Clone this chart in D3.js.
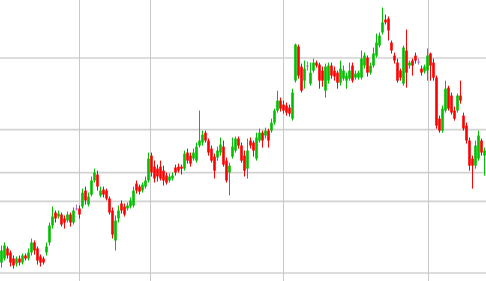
<!DOCTYPE html>
<html>
<head>
<meta charset="utf-8">
<script src="https://cdn.jsdelivr.net/npm/d3@7"></script>
<style>
  html, body { margin: 0; padding: 0; background: #fff; overflow: hidden; }
</style>
</head>
<body>
<div id="chart"></div>
<script>
// daily OHLC
const open = [
  10.73, 11.01, 11.71, 11.43, 11.01, 10.66, 11.01, 10.73, 11.22, 11.01,
  11.43, 12.13, 11.71, 11.15, 11.01, 11.43, 12.13, 13.31, 14.22, 13.94,
  14.08, 13.80, 13.66, 14.08, 13.52, 14.50, 14.50, 14.64, 15.75, 14.78,
  15.47, 16.45, 16.87, 15.41, 15.82, 15.75, 15.20, 14.36, 12.27, 13.80,
  14.85, 14.64, 14.50, 14.64, 14.71, 16.24, 16.03, 15.75, 16.03, 16.45,
  18.19, 17.42, 17.28, 17.42, 17.14, 16.80, 16.45, 16.59, 17.36, 17.42,
  17.42, 17.28, 18.40, 18.19, 17.98, 17.84, 18.89, 19.10, 19.79, 19.24,
  18.68, 18.12, 18.05, 18.40, 18.82, 17.84, 17.01, 18.12, 18.54, 19.38,
  18.89, 18.19, 17.28, 19.24, 19.10, 17.98, 19.24, 19.79, 19.59, 19.93,
  19.93, 20.49, 21.33, 22.03, 21.75, 21.68, 21.54, 20.77, 23.42, 25.80,
  24.40, 23.42, 24.47, 23.21, 24.12, 24.68, 24.54, 24.12, 22.72, 23.42,
  24.47, 24.12, 23.98, 23.28, 23.56, 23.42, 23.56, 24.47, 23.63, 23.63,
  23.63, 24.47, 25.03, 23.98, 24.47, 25.17, 25.87, 26.78, 27.68, 27.75,
  26.08, 25.17, 24.68, 24.12, 23.21, 25.52, 24.47, 24.82, 25.17, 24.75,
  24.26, 24.05, 24.12, 25.31, 24.68, 23.63, 20.77, 19.93, 21.33, 22.93,
  22.38, 21.33, 21.33, 22.38, 20.98, 20.28, 19.24, 17.98, 17.49, 17.98,
  19.24, 18.19
];
const high = [
  11.92, 12.13, 11.85, 11.57, 11.22, 11.15, 11.22, 11.36, 11.36, 11.71,
  12.40, 12.27, 11.85, 11.29, 11.15, 12.13, 13.52, 14.64, 14.36, 14.36,
  14.22, 14.01, 14.29, 14.22, 14.57, 14.78, 14.71, 15.89, 16.03, 15.61,
  16.73, 17.28, 17.14, 16.03, 16.03, 15.89, 15.34, 14.57, 14.01, 14.71,
  15.06, 14.85, 14.92, 15.27, 16.03, 16.45, 16.17, 16.31, 16.73, 18.40,
  18.40, 17.84, 17.56, 17.84, 17.49, 17.01, 16.94, 17.01, 17.56, 17.63,
  17.56, 18.54, 18.68, 18.40, 18.68, 19.10, 21.33, 19.93, 19.93, 19.38,
  18.89, 18.33, 18.82, 19.45, 19.24, 18.05, 17.70, 19.45, 19.52, 19.52,
  19.10, 18.54, 19.38, 19.45, 19.24, 19.79, 20.07, 19.93, 20.14, 20.07,
  20.77, 21.47, 22.72, 22.24, 22.03, 21.89, 21.75, 22.86, 26.01, 25.94,
  24.61, 24.82, 24.75, 24.68, 24.96, 24.82, 24.68, 24.40, 24.61, 24.68,
  24.68, 24.40, 24.12, 24.82, 24.47, 23.98, 24.68, 24.68, 24.12, 24.12,
  25.52, 25.38, 25.17, 24.68, 25.73, 26.71, 26.78, 28.52, 28.03, 27.89,
  26.22, 25.38, 24.96, 24.26, 25.87, 26.99, 24.82, 24.96, 25.38, 24.96,
  24.47, 24.54, 25.66, 25.38, 24.96, 23.77, 20.98, 21.68, 23.42, 23.07,
  22.59, 21.61, 22.52, 23.42, 21.19, 20.49, 19.45, 18.19, 19.24, 19.93,
  19.38, 18.75
];
const low = [
  10.38, 10.87, 11.01, 10.45, 10.31, 10.45, 10.52, 10.59, 10.87, 10.87,
  11.22, 11.29, 10.59, 10.45, 10.59, 11.22, 11.92, 13.10, 13.52, 13.80,
  13.24, 13.10, 13.52, 13.24, 13.38, 14.36, 13.80, 14.50, 14.78, 14.64,
  15.34, 16.31, 15.75, 15.27, 15.27, 15.06, 14.08, 12.40, 11.57, 13.52,
  14.15, 13.94, 14.36, 14.50, 14.57, 15.54, 15.47, 15.61, 15.89, 16.31,
  16.73, 16.31, 16.38, 16.45, 16.10, 16.17, 16.31, 16.45, 16.80, 17.01,
  16.87, 17.14, 17.63, 17.42, 17.84, 17.70, 18.75, 18.89, 19.10, 18.19,
  17.70, 16.59, 17.84, 18.19, 17.42, 16.31, 15.41, 17.98, 18.40, 18.68,
  17.70, 16.73, 16.59, 18.68, 18.12, 17.84, 19.10, 18.75, 19.38, 18.75,
  19.79, 20.35, 21.19, 21.26, 21.12, 20.98, 20.91, 20.63, 23.28, 23.56,
  22.59, 22.86, 24.12, 23.07, 23.98, 24.33, 22.86, 23.00, 22.24, 23.21,
  23.56, 23.42, 22.86, 23.07, 23.42, 22.86, 23.42, 23.28, 23.49, 23.49,
  23.49, 24.26, 23.70, 23.84, 24.33, 25.03, 25.73, 26.64, 27.34, 26.22,
  25.31, 24.61, 23.28, 23.42, 23.07, 22.93, 24.26, 23.77, 24.61, 24.54,
  23.77, 23.91, 23.42, 23.42, 23.42, 20.07, 19.79, 19.79, 21.19, 21.33,
  21.05, 20.63, 21.19, 21.82, 19.93, 19.03, 17.14, 15.89, 17.28, 17.84,
  18.19, 16.80
];
const close = [
  11.57, 11.92, 11.22, 10.73, 10.52, 11.01, 10.73, 11.22, 11.01, 11.43,
  12.13, 11.57, 10.87, 10.73, 10.73, 11.85, 13.31, 13.94, 13.80, 14.15,
  13.38, 13.52, 14.08, 13.52, 14.36, 14.50, 14.08, 15.61, 15.06, 15.34,
  16.45, 17.01, 16.03, 15.75, 15.47, 15.20, 14.22, 12.68, 13.66, 14.36,
  14.36, 14.08, 14.71, 15.06, 15.75, 15.75, 15.68, 16.17, 16.45, 17.98,
  17.01, 16.59, 16.73, 16.59, 16.45, 16.31, 16.73, 16.80, 17.01, 17.14,
  17.28, 18.33, 17.84, 17.63, 18.40, 18.82, 19.24, 19.66, 19.24, 18.40,
  17.84, 17.14, 18.54, 18.96, 17.56, 16.45, 17.49, 18.82, 19.38, 18.89,
  17.84, 17.14, 18.54, 18.89, 18.54, 19.45, 19.79, 19.24, 19.93, 19.24,
  20.49, 21.33, 22.03, 21.47, 21.33, 21.19, 21.12, 22.59, 25.94, 23.77,
  22.72, 24.26, 24.47, 23.98, 24.68, 24.47, 23.42, 23.42, 24.40, 24.47,
  23.77, 23.70, 23.28, 24.26, 24.12, 23.77, 24.12, 23.42, 23.91, 23.98,
  24.96, 25.17, 23.98, 24.47, 25.31, 26.08, 26.57, 27.48, 27.48, 26.92,
  25.52, 24.82, 23.42, 23.63, 25.73, 23.98, 24.68, 24.47, 24.82, 24.75,
  23.98, 24.40, 25.17, 24.47, 23.63, 20.28, 19.93, 21.47, 22.86, 21.47,
  21.19, 20.77, 22.38, 22.03, 20.07, 19.24, 17.49, 17.49, 18.89, 19.59,
  18.40, 18.54
];

const priceTicks = [10, 15, 17, 20, 25];
// session index where the vertical grid lines fall
const timeTicks = [26, 49.67, 94, 142.33];

const width = 486, height = 281;

const data = open.map((o, i) => ({ i: i, o: o, h: high[i], l: low[i], c: close[i] }));

const svg = d3.select("#chart")
              .append("svg")
              .attr("width", width)
              .attr("height", height);

const x = d3.scaleLinear()
            .domain([-0.5, open.length - 0.5])
            .range([0, width]);

const y = d3.scaleLinear()
            .domain([10, 25])
            .range([273, 58]);

// grid
svg.append("g")
   .selectAll("line")
   .data(priceTicks)
   .join("line")
   .attr("x1", 0)
   .attr("x2", width)
   .attr("y1", d => y(d))
   .attr("y2", d => y(d))
   .attr("stroke", "#d2d2d2")
   .attr("stroke-width", 1.6);

svg.append("g")
   .selectAll("line")
   .data(timeTicks)
   .join("line")
   .attr("x1", d => x(d))
   .attr("x2", d => x(d))
   .attr("y1", 0)
   .attr("y2", height)
   .attr("stroke", "#c8c8c8")
   .attr("stroke-width", 1);

function color(d) {
  if (d.c > d.o) return "#00c000";
  if (d.c < d.o) return "#ff0000";
  return "#b070c8";
}

const candles = svg.append("g")
                   .selectAll("g")
                   .data(data)
                   .join("g");

// wicks
candles.append("rect")
       .attr("x", d => x(d.i) - 0.5)
       .attr("width", 1)
       .attr("y", d => y(d.h))
       .attr("height", d => Math.max(1, y(d.l) - y(d.h)))
       .attr("fill", color);

// bodies
candles.append("rect")
       .attr("x", d => x(d.i) - 1.3)
       .attr("width", 2.6)
       .attr("y", d => y(Math.max(d.o, d.c)))
       .attr("height", d => Math.max(1, Math.abs(y(d.o) - y(d.c))))
       .attr("fill", color);
</script>
</body>
</html>
